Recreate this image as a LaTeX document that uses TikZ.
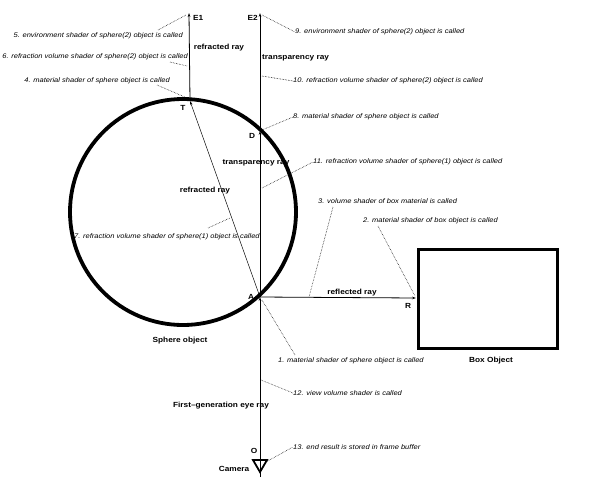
\documentclass[tikz,border=0pt]{standalone}
\usepackage{fontspec}
\setmainfont{Liberation Sans}
\newfontfamily\annfont[FakeStretch=1.12]{Liberation Sans}
\usetikzlibrary{arrows.meta}
\begin{document}
\begin{tikzpicture}[x=1pt,y=-1pt,
  ann/.style={font=\annfont\fontsize{6.7}{7}\selectfont\itshape, inner sep=0pt},
  lbl/.style={font=\annfont\fontsize{7.4}{8}\selectfont\bfseries, inner sep=0pt},
  ray/.style={line width=0.8pt},
  thinray/.style={line width=0.5pt},
  lead/.style={densely dotted, line width=0.55pt},
  tip/.style={-{Stealth[length=4pt,width=2.6pt]}}]
\useasboundingbox (0,0) rectangle (591,490);
% points
\coordinate (A) at (260,297);
\coordinate (T) at (190,101);
\coordinate (D) at (260,131);
\coordinate (E1) at (189,13);
\coordinate (E2) at (260,13);
\coordinate (R) at (416,298);
\coordinate (O) at (260,458);
\coordinate (Bot) at (260,477);
% sphere and box
\draw[line width=3.8pt] (183,212) circle[radius=113];
\draw[line width=3pt] (418,249) rectangle (557,348);
% rays
\draw[ray] (Bot) -- (O);
\draw[ray,tip] (O) -- (A);
\draw[ray,tip] (A) -- (D);
\draw[ray,tip] (D) -- (E2);
\draw[thinray,tip] (A) -- (T);
\draw[ray,tip] (T) -- (E1);
\draw[ray,tip] (A) -- (R);
% camera
\draw[line width=1.8pt] (253,460) -- (267,460) -- (260,472) -- cycle;
% labels
\node[lbl,anchor=west] (lE1) at (193,18) {E1};
\node[lbl,anchor=east] (lE2) at (258,18) {E2};
\node[lbl] (lrr1) at (219,48) {refracted ray};
\node[lbl,anchor=west] (ltr1) at (262,58) {transparency ray};
\node[lbl] (lT) at (183,108) {T};
\node[lbl] (lD) at (252,136) {D};
\node[lbl] (ltr2) at (256,163) {transparency ray};
\node[lbl] (lrr2) at (205,191) {refracted ray};
\node[lbl] (lA) at (251,297) {A};
\node[lbl] (lsph) at (180,341) {Sphere object};
\node[lbl] (lref) at (352,293) {reflected ray};
\node[lbl] (lR) at (408,306) {R};
\node[lbl] (lbox) at (491,361) {Box Object};
\node[lbl] (leye) at (221,406) {First–generation eye ray};
\node[lbl] (lO) at (254,451) {O};
\node[lbl] (lcam) at (234,469) {Camera};
% annotations
\node[ann,anchor=east] (a5) at (183,36) {5. environment shader of sphere(2) object is called};
\node[ann,anchor=east] (a6) at (188,57) {6. refraction volume shader of sphere(2) object is called};
\node[ann,anchor=east] (a4) at (170,81) {4. material shader of sphere object is called};
\node[ann,anchor=west] (a9) at (295,32) {9. environment shader of sphere(2) object is called};
\node[ann,anchor=west] (a10) at (293,81) {10. refraction volume shader of sphere(2) object is called};
\node[ann,anchor=west] (a8) at (293,117) {8. material shader of sphere object is called};
\node[ann,anchor=west] (a11) at (313,162) {11. refraction volume shader of sphere(1) object is called};
\node[ann,anchor=west] (a3) at (318,201) {3. volume shader of box material is called};
\node[ann,anchor=west] (a2) at (363,221) {2. material shader of box object is called};
\node[ann,anchor=west] (a7) at (74,237) {7. refraction volume shader of sphere(1) object is called};
\node[ann,anchor=west] (a1) at (278,361) {1. material shader of sphere object is called};
\node[ann,anchor=west] (a12) at (293,393) {12. view volume shader is called};
\node[ann,anchor=west] (a13) at (293,447) {13. end result is stored in frame buffer};
% leader anchor coordinates
\coordinate (p5) at (158,30);
\coordinate (q5) at (186,15);
\coordinate (p6) at (170,62);
\coordinate (q6) at (187,66);
\coordinate (p4) at (157,85);
\coordinate (q4) at (187,98);
\coordinate (q9) at (262,15);
\coordinate (q10) at (262,76);
\coordinate (q8) at (262,130);
\coordinate (q11) at (262,188);
\coordinate (p3) at (333,207);
\coordinate (q3) at (309,297);
\coordinate (p2) at (378,226);
\coordinate (q2) at (415,296);
\coordinate (p7) at (208,228);
\coordinate (q7) at (230,218);
\coordinate (q1) at (262,300);
\coordinate (p1) at (295,355);
\coordinate (q12) at (261,380);
\coordinate (q13) at (266,462);
% leaders
\draw[lead] (p5) -- (q5);
\draw[lead] (p6) -- (q6);
\draw[lead] (p4) -- (q4);
\draw[lead] (q9) -- (a9.west);
\draw[lead] (q10) -- (a10.west);
\draw[lead] (q8) -- (a8.west);
\draw[lead] (q11) -- (a11.west);
\draw[lead] (p3) -- (q3);
\draw[lead] (p2) -- (q2);
\draw[lead] (p7) -- (q7);
\draw[lead] (q1) -- (p1);
\draw[lead] (q12) -- (a12.west);
\draw[lead] (q13) -- (a13.west);
\end{tikzpicture}
\end{document}
